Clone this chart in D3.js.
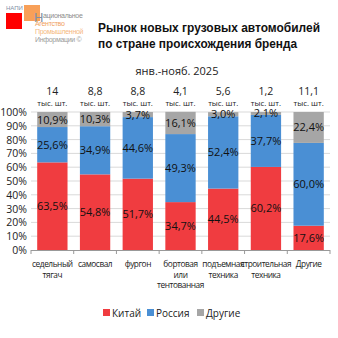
<!DOCTYPE html>
<html>
<head>
<meta charset="utf-8">
<script src="https://cdn.jsdelivr.net/npm/d3@7"></script>
<style>
body { margin: 0; background: #fff; }
text { font-family: "Open Sans", "DejaVu Sans", sans-serif; }
.arial { font-family: "Liberation Sans", Arial, sans-serif; }
</style>
</head>
<body>
<svg id="chart" width="338" height="338"></svg>
<script>
// данные
var categories = ["седельный|тягач", "самосвал", "фургон", "бортовая|или|тентованная", "подъемная|техника", "строительная|техника", "Другие"];
var totals = ["14", "8,8", "8,8", "4,1", "5,6", "1,2", "11,1"];
var china = [63.5, 54.8, 51.7, 34.7, 44.5, 60.2, 17.6];
var russia = [25.6, 34.9, 44.6, 49.3, 52.4, 37.7, 60.0];
var others = [10.9, 10.3, 3.7, 16.1, 3.0, 2.1, 22.4];
var seriesNames = ["Китай", "Россия", "Другие"];
var colors = ["#f03c40", "#4a8fd4", "#a6a6a6"];
var yTicks = [0, 10, 20, 30, 40, 50, 60, 70, 80, 90, 100];

var svg = d3.select("#chart");

var x = d3.scaleBand().domain(d3.range(categories.length)).range([31, 330]).paddingInner(0.29).paddingOuter(0.145);
var y = d3.scaleLinear().domain([0, 100]).range([250, 112]);

var rows = categories.map(function(c, i) {
    return {i: i, "Китай": china[i], "Россия": russia[i], "Другие": others[i]};
});
var stack = d3.stack().keys(seriesNames)(rows);

var fmt = function(v) { return d3.format(".1f")(v).replace(".", ",") + "%"; };

// grid
svg.append("g").selectAll("line")
    .data(yTicks.slice(1))
    .enter().append("line")
    .attr("x1", 31).attr("x2", 330)
    .attr("y1", function(d) { return y(d); })
    .attr("y2", function(d) { return y(d); })
    .attr("stroke", "#d9d9d9").attr("stroke-width", 1);

// y labels
svg.append("g").selectAll("text")
    .data(yTicks)
    .enter().append("text")
    .attr("x", 27)
    .attr("y", function(d) { return y(d) + 4; })
    .attr("text-anchor", "end")
    .attr("font-size", 10.5)
    .attr("fill", "#222")
    .text(function(d) { return d + "%"; });

// bars
var layer = svg.append("g").selectAll("g")
    .data(stack)
    .enter().append("g")
    .attr("fill", function(d, k) { return colors[k]; });

layer.selectAll("rect")
    .data(function(d) { return d; })
    .enter().append("rect")
    .attr("x", function(d) { return x(d.data.i); })
    .attr("width", x.bandwidth())
    .attr("y", function(d) { return y(d[1]); })
    .attr("height", function(d) { return y(d[0]) - y(d[1]); });

// value labels
layer.selectAll("text")
    .data(function(d) { return d; })
    .enter().append("text")
    .attr("x", function(d) { return x(d.data.i) + x.bandwidth() / 2; })
    .attr("y", function(d) { return y((d[0] + d[1]) / 2) + 4; })
    .attr("text-anchor", "middle")
    .attr("font-size", 11)
    .attr("fill", "#111")
    .text(function(d) { return fmt(d[1] - d[0]); });

// x axis
svg.append("line").attr("x1", 31).attr("x2", 330).attr("y1", 250.5).attr("y2", 250.5).attr("stroke", "#999");
svg.append("g").selectAll("line")
    .data(d3.range(categories.length + 1))
    .enter().append("line")
    .attr("x1", function(d) { return 31 + d * x.step(); })
    .attr("x2", function(d) { return 31 + d * x.step(); })
    .attr("y1", 250).attr("y2", 254)
    .attr("stroke", "#999");

// category labels
var cat = svg.append("g").selectAll("text")
    .data(categories)
    .enter().append("text")
    .attr("text-anchor", "middle")
    .attr("font-size", 8.3)
    .attr("letter-spacing", -0.45)
    .attr("fill", "#222")
    .attr("transform", function(d, i) { return "translate(" + (x(i) + x.bandwidth() / 2) + ",0)"; });
cat.selectAll("tspan")
    .data(function(d) { return d.split("|"); })
    .enter().append("tspan")
    .attr("x", 0)
    .attr("y", function(d, j) { return 267 + j * 10.5; })
    .text(function(d) { return d; });

// totals above bars
var tot = svg.append("g").selectAll("g")
    .data(totals)
    .enter().append("g")
    .attr("transform", function(d, i) { return "translate(" + (x(i) + x.bandwidth() / 2) + ",0)"; });
tot.append("text")
    .attr("y", 95).attr("text-anchor", "middle")
    .attr("font-size", 10.5).attr("fill", "#222")
    .text(function(d) { return d; });
tot.append("text")
    .attr("y", 105.5).attr("text-anchor", "middle")
    .attr("font-size", 7.8).attr("fill", "#222")
    .text("тыс. шт.");

// title
svg.append("text").attr("class", "arial").attr("x", 98).attr("y", 32)
    .attr("font-size", 12.5).attr("font-weight", "bold").attr("fill", "#111")
    .attr("textLength", 222).attr("lengthAdjust", "spacingAndGlyphs")
    .text("Рынок новых грузовых автомобилей");
svg.append("text").attr("class", "arial").attr("x", 98).attr("y", 48)
    .attr("font-size", 12.5).attr("font-weight", "bold").attr("fill", "#111")
    .attr("textLength", 199).attr("lengthAdjust", "spacingAndGlyphs")
    .text("по стране происхождения бренда");
svg.append("text").attr("x", 177).attr("y", 75)
    .attr("text-anchor", "middle").attr("font-size", 11).attr("fill", "#222")
    .text("янв.-нояб. 2025");

// logo
svg.append("rect").attr("x", 6).attr("y", 13).attr("width", 16).attr("height", 16).attr("fill", "#ff0000");
svg.append("rect").attr("x", 24).attr("y", 5).attr("width", 16).attr("height", 16).attr("fill", "#f79646").attr("opacity", 0.9);
svg.append("text").attr("class", "arial").attr("x", 6).attr("y", 10).attr("font-size", 6).attr("fill", "#7f8fa6").text("НАПИ");
svg.append("text").attr("class", "arial").attr("x", 34).attr("y", 22).attr("font-size", 13).attr("fill", "#7f8fa6").text("Н");
var logoLines = [["ациональное", "#8c8c8c", 43, 18], ["Агентство", "#f0a060", 35, 26], ["Промышленной", "#f5b880", 35, 34], ["Информации ©", "#9a9a9a", 35, 42]];
svg.append("g").selectAll("text")
    .data(logoLines)
    .enter().append("text")
    .attr("class", "arial")
    .attr("x", function(d) { return d[2]; })
    .attr("y", function(d) { return d[3]; })
    .attr("font-size", 7)
    .attr("letter-spacing", -0.3)
    .attr("fill", function(d) { return d[1]; })
    .text(function(d) { return d[0]; });

// legend
var legendX = [103, 147, 197];
var lg = svg.append("g").selectAll("g")
    .data(seriesNames)
    .enter().append("g")
    .attr("transform", function(d, k) { return "translate(" + legendX[k] + ",309)"; });
lg.append("rect").attr("width", 7).attr("height", 7).attr("fill", function(d, k) { return colors[k]; });
lg.append("text").attr("x", 9).attr("y", 7.5).attr("font-size", 10).attr("fill", "#222")
    .text(function(d) { return d; });
</script>
</body>
</html>
